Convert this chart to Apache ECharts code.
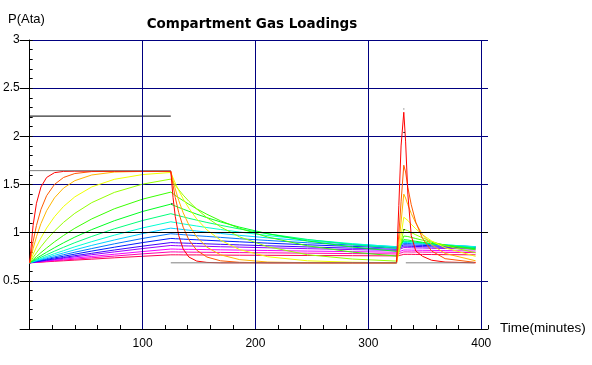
<!DOCTYPE html>
<html><head><meta charset="utf-8">
<script src="https://cdn.jsdelivr.net/npm/echarts@6/dist/echarts.min.js"></script>
<style>html,body{margin:0;padding:0;background:#fff}#c{width:592px;height:365px}</style>
</head><body><div id="c"></div>
<script>
// time axis (minutes)
const times = [0,3,6,10,15,22,30,40,55,75,100,125, 127,129,132,136,141,148,157,169,186,211,246,286,325, 327,329,331.4,333,335,338,342,348,356,368,395];
// compartment loadings (Ata), fastest to slowest
const c01 = [0.687,1.075,1.305,1.475,1.573,1.623,1.636,1.638,1.638,1.638,1.638,1.638, 1.364,1.166,0.971,0.829,0.747,0.705,0.691,0.687,0.687,0.687,0.687,0.687,0.687, 1.28,1.90,2.25,1.95,1.40,0.97,0.81,0.755,0.714,0.695,0.687];
const c02 = [0.687,0.906,1.075,1.242,1.384,1.501,1.573,1.614,1.634,1.637,1.637,1.637, 1.492,1.364,1.209,1.056,0.926,0.817,0.747,0.708,0.692,0.687,0.687,0.687,0.687, 0.98,1.32,1.70,1.63,1.47,1.29,1.11,0.94,0.81,0.73,0.691];
const c03 = [0.687,0.833,0.958,1.095,1.228,1.362,1.463,1.540,1.599,1.629,1.636,1.637, 1.543,1.453,1.335,1.206,1.081,0.954,0.849,0.770,0.720,0.695,0.688,0.687,0.687, 0.88,1.11,1.40,1.36,1.29,1.20,1.10,0.98,0.875,0.784,0.708];
const c04 = [0.687,0.773,0.852,0.945,1.048,1.166,1.272,1.372,1.475,1.554,1.603,1.625, 1.568,1.514,1.439,1.350,1.254,1.142,1.029,0.922,0.824,0.750,0.708,0.693,0.688, 0.81,0.97,1.16,1.155,1.127,1.087,1.040,0.979,0.914,0.843,0.754];
const c05 = [0.687,0.741,0.791,0.854,0.927,1.017,1.107,1.201,1.312,1.418,1.504,1.556, 1.523,1.492,1.447,1.390,1.326,1.245,1.156,1.060,0.956,0.853,0.771,0.726,0.705, 0.79,0.90,1.035,1.033,1.020,1.002,0.978,0.946,0.909,0.864,0.792];
const c06 = [0.687,0.720,0.752,0.793,0.841,0.905,0.971,1.046,1.143,1.248,1.348,1.421, 1.404,1.387,1.363,1.332,1.295,1.247,1.191,1.124,1.045,0.954,0.864,0.798,0.757, 0.81,0.88,0.965,0.967,0.960,0.951,0.939,0.922,0.900,0.872,0.822];
const c07 = [0.687,0.710,0.733,0.762,0.797,0.844,0.895,0.954,1.032,1.124,1.220,1.296, 1.286,1.276,1.262,1.244,1.222,1.192,1.156,1.112,1.057,0.989,0.914,0.851,0.806, 0.84,0.88,0.928,0.927,0.924,0.918,0.911,0.900,0.887,0.868,0.832];
const c08 = [0.687,0.704,0.721,0.744,0.771,0.808,0.848,0.896,0.961,1.040,1.126,1.197, 1.191,1.185,1.176,1.164,1.149,1.130,1.106,1.077,1.038,0.988,0.930,0.877,0.836, 0.855,0.88,0.914,0.913,0.911,0.907,0.901,0.894,0.884,0.870,0.842];
const c09 = [0.687,0.700,0.714,0.731,0.753,0.782,0.813,0.853,0.907,0.974,1.049,1.113, 1.109,1.105,1.099,1.091,1.082,1.069,1.053,1.033,1.006,0.970,0.927,0.886,0.852, 0.866,0.885,0.909,0.908,0.907,0.904,0.900,0.894,0.886,0.875,0.852];
const c10 = [0.687,0.697,0.709,0.722,0.741,0.764,0.790,0.822,0.868,0.924,0.990,1.047, 1.044,1.042,1.038,1.032,1.026,1.017,1.006,0.992,0.972,0.946,0.914,0.882,0.855, 0.866,0.88,0.899,0.898,0.897,0.895,0.892,0.887,0.882,0.873,0.855];
const c11 = [0.687,0.696,0.704,0.716,0.730,0.749,0.771,0.797,0.835,0.884,0.940,0.989, 0.987,0.985,0.983,0.979,0.975,0.968,0.961,0.951,0.937,0.919,0.895,0.871,0.850, 0.86,0.873,0.889,0.889,0.888,0.886,0.884,0.880,0.876,0.869,0.854];
const c12 = [0.687,0.694,0.701,0.710,0.722,0.738,0.755,0.777,0.809,0.849,0.897,0.940, 0.939,0.937,0.936,0.933,0.930,0.926,0.921,0.914,0.905,0.891,0.874,0.857,0.841, 0.85,0.861,0.874,0.874,0.873,0.872,0.870,0.868,0.864,0.859,0.848];
const c13 = [0.687,0.693,0.698,0.706,0.715,0.728,0.742,0.761,0.786,0.820,0.860,0.897, 0.896,0.895,0.894,0.892,0.890,0.888,0.884,0.879,0.873,0.864,0.852,0.839,0.828, 0.836,0.847,0.86,0.86,0.859,0.858,0.857,0.855,0.852,0.848,0.840];
const c14 = [0.687,0.692,0.697,0.703,0.711,0.721,0.734,0.749,0.771,0.800,0.835,0.867, 0.866,0.865,0.864,0.863,0.862,0.860,0.858,0.854,0.850,0.843,0.834,0.824,0.816, 0.823,0.833,0.845,0.845,0.844,0.843,0.842,0.841,0.838,0.836,0.829];
const c15 = [0.687,0.691,0.695,0.700,0.706,0.714,0.724,0.736,0.753,0.776,0.804,0.830, 0.830,0.829,0.828,0.827,0.827,0.826,0.824,0.822,0.819,0.815,0.809,0.803,0.797, 0.803,0.81,0.82,0.82,0.82,0.819,0.818,0.817,0.816,0.814,0.809];
const c16 = [0.687,0.690,0.693,0.697,0.701,0.708,0.716,0.725,0.739,0.757,0.780,0.800, 0.800,0.800,0.799,0.799,0.798,0.797,0.796,0.795,0.793,0.791,0.787,0.783,0.779, 0.784,0.79,0.80,0.80,0.80,0.799,0.799,0.798,0.797,0.796,0.793];
const c17 = [0.687,0.689,0.691,0.694,0.698,0.703,0.708,0.715,0.725,0.739,0.755,0.770, 0.770,0.770,0.770,0.769,0.769,0.769,0.768,0.767,0.766,0.765,0.763,0.761,0.759, 0.763,0.767,0.775,0.775,0.775,0.775,0.774,0.774,0.773,0.772,0.770];
const compartments = [c01,c02,c03,c04,c05,c06,c07,c08,c09,c10,c11,c12,c13,c14,c15,c16,c17];

// inspired N2 pressure (gray) and ambient pressure (black) segments
const inspiredSegments = [
  [[0,1.644],[125,1.644]],
  [[125,0.687],[325.5,0.687]],
  [[330.8,2.284],[332,2.284]],
  [[333.2,0.687],[394,0.687]]
];
const ambientSegments = [
  [[0,2.21],[125,2.21]],
  [[125.3,1.30],[126.6,1.30]],
  [[331,2.04],[332.3,2.04]],
  [[331,1.03],[332.3,1.03]]
];
const surfaceLevel = 1;
const xGridValues = [100,200,300,400];

const colors = ['#ff0000','#ff5a00','#ffb500','#efff00','#95ff00','#3aff00','#00ff20','#00ff7a','#00ffd4','#00cfff','#0075ff','#001bff','#4000ff','#9a00ff','#f400ff','#ff00af','#ff0055'];

const series = [];
series.push({type:'line', data:[[0,0]], symbol:'none', lineStyle:{opacity:0}, z:1, silent:true,
  markLine:{symbol:'none', silent:true, label:{show:false}, animation:false,
    data: [
      ...xGridValues.map(v=>({xAxis:v, lineStyle:{color:'#000080', type:'solid', width:1}})),
      {yAxis:surfaceLevel, lineStyle:{color:'#000000', type:'solid', width:1}}
    ]}});
for (let k = compartments.length-1; k >= 0; k--) {
  const vals = compartments[k];
  series.push({type:'line', data: times.map((t,i)=>[t, vals[i]]), symbol:'none', z:3,
    lineStyle:{color:colors[k], width:1}, silent:true});
}
inspiredSegments.forEach(s=>series.push({type:'line', data:s, symbol:'none', z:4, silent:true, lineStyle:{color:'#808080', width:1}}));
ambientSegments.forEach(s=>series.push({type:'line', data:s, symbol:'none', z:4, silent:true, lineStyle:{color:'#000000', width:1}}));

const font = "'Liberation Sans', Arial, sans-serif";
const chart = echarts.init(document.getElementById('c'));
chart.setOption({
  animation:false,
  backgroundColor:'#ffffff',
  grid:{left:29, top:40, width:459, height:289, containLabel:false},
  xAxis:{type:'value', min:0, max:406, interval:20,
    axisLine:{lineStyle:{color:'#000', width:1}},
    axisTick:{show:true, inside:true, length:4, lineStyle:{color:'#000'}},
    axisLabel:{margin:9, fontSize:12, color:'#000', fontFamily:font,
      formatter:v=>(v>0 && v%100===0) ? String(v) : ''},
    splitLine:{show:false}},
  yAxis:[
    {type:'value', min:0, max:3, interval:0.5,
      axisLine:{show:true, lineStyle:{color:'#000', width:1}},
      axisTick:{show:true, inside:false, length:10, lineStyle:{color:'#000'}},
      axisLabel:{margin:10, fontSize:12, color:'#000', fontFamily:font,
        formatter:v=> v===0 ? '' : String(v)},
      splitLine:{show:true, lineStyle:{color:'#000080', width:1}}},
    {type:'value', min:0, max:3, interval:0.1, position:'left', offset:0,
      axisLine:{show:false},
      axisTick:{show:true, inside:true, length:3, lineStyle:{color:'#000'}},
      axisLabel:{show:false}, splitLine:{show:false}}
  ],
  graphic:[
    {type:'text', left:8, top:13, style:{text:'P(Ata)', font:"13px "+font, fill:'#000'}},
    {type:'text', x:252, y:24, style:{text:'Compartment Gas Loadings', font:"bold 13.5px 'DejaVu Sans', sans-serif", fill:'#000', textAlign:'center', textVerticalAlign:'middle'}},
    {type:'text', x:500, y:328, style:{text:'Time(minutes)', font:"13.5px "+font, fill:'#000', textAlign:'left', textVerticalAlign:'middle'}}
  ],
  series
});
</script>
</body></html>
